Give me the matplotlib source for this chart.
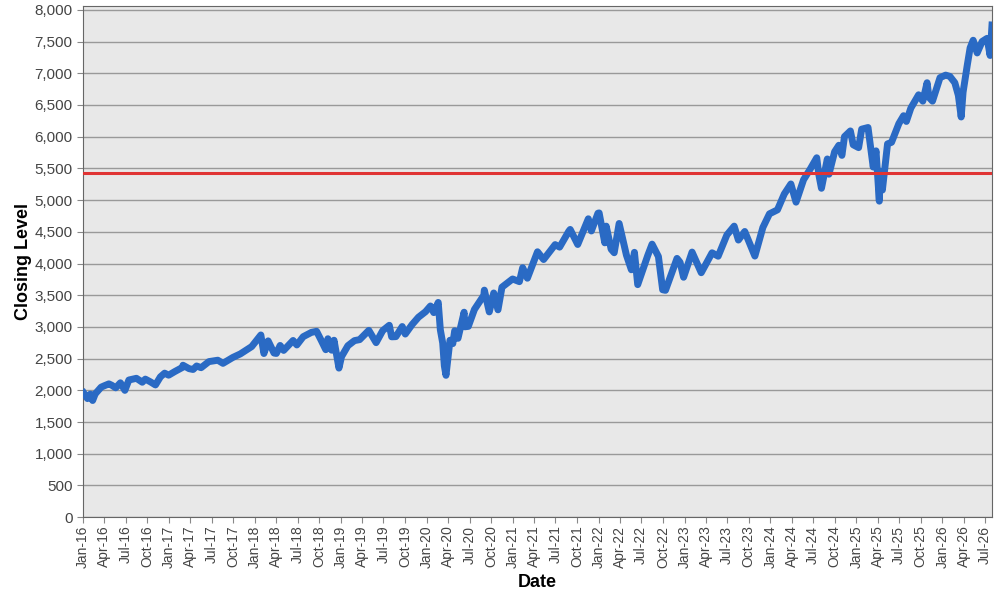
import pandas as pd
import matplotlib
matplotlib.use("Agg")
import matplotlib.pyplot as plt
import matplotlib.dates as mdates
from matplotlib.ticker import MultipleLocator, StrMethodFormatter

plt.rcParams['font.family'] = ['Liberation Sans', 'DejaVu Sans']

# closing levels (approximate)
dates = [
    # 2016
    "2016-01-04", "2016-01-20", "2016-02-01", "2016-02-11", "2016-02-22", "2016-03-01",
    "2016-03-18", "2016-04-01", "2016-04-20", "2016-05-02", "2016-05-19", "2016-06-08",
    "2016-06-27", "2016-07-14", "2016-08-15", "2016-09-09", "2016-09-22", "2016-10-14",
    "2016-11-04", "2016-11-25", "2016-12-13", "2016-12-30",
    # 2017
    "2017-01-26", "2017-02-28", "2017-03-01", "2017-03-27", "2017-04-13", "2017-04-28",
    "2017-05-17", "2017-06-19", "2017-07-27", "2017-08-18", "2017-09-29", "2017-10-31",
    "2017-11-30", "2017-12-18",
    # 2018
    "2018-01-26", "2018-02-08", "2018-02-26", "2018-03-23", "2018-04-02", "2018-04-18",
    "2018-05-03", "2018-06-12", "2018-06-28", "2018-07-25", "2018-08-29", "2018-09-20",
    "2018-10-10", "2018-10-29", "2018-11-07", "2018-11-23", "2018-12-03", "2018-12-24",
    # 2019
    "2019-01-04", "2019-01-31", "2019-02-28", "2019-03-22", "2019-04-30", "2019-05-31",
    "2019-06-28", "2019-07-26", "2019-08-05", "2019-08-23", "2019-09-19", "2019-10-02",
    "2019-10-31", "2019-11-27", "2019-12-27",
    # 2020
    "2020-01-17", "2020-01-31", "2020-02-19", "2020-02-28", "2020-03-09", "2020-03-16",
    "2020-03-23", "2020-04-09", "2020-04-21", "2020-04-29", "2020-05-13", "2020-06-08",
    "2020-06-11", "2020-06-26", "2020-07-22", "2020-08-31", "2020-09-02", "2020-09-23",
    "2020-10-12", "2020-10-30", "2020-11-16", "2020-12-31",
    # 2021
    "2021-01-29", "2021-02-12", "2021-03-04", "2021-04-16", "2021-05-12", "2021-06-30",
    "2021-07-19", "2021-08-27", "2021-09-02", "2021-10-04", "2021-11-18", "2021-12-01",
    "2021-12-29",
    # 2022
    "2022-01-03", "2022-01-27", "2022-02-02", "2022-02-23", "2022-03-08", "2022-03-29",
    "2022-04-29", "2022-05-20", "2022-06-02", "2022-06-16", "2022-07-29", "2022-08-16",
    "2022-09-12", "2022-09-30", "2022-10-12", "2022-11-30", "2022-12-13", "2022-12-28",
    # 2023
    "2023-02-02", "2023-03-13", "2023-04-28", "2023-05-24", "2023-06-30", "2023-07-31",
    "2023-08-18", "2023-09-14", "2023-10-27", "2023-11-30", "2023-12-28",
    # 2024
    "2024-01-31", "2024-02-29", "2024-03-28", "2024-04-19", "2024-05-21", "2024-06-18",
    "2024-07-16", "2024-07-25", "2024-08-05", "2024-08-30", "2024-09-06", "2024-09-30",
    "2024-10-18", "2024-10-31", "2024-11-11", "2024-12-06", "2024-12-18",
    # 2025
    "2025-01-10", "2025-01-23", "2025-02-19", "2025-03-13", "2025-03-25", "2025-04-08",
    "2025-04-09", "2025-04-21", "2025-05-13", "2025-05-30", "2025-06-30", "2025-07-20",
    "2025-08-01", "2025-08-20", "2025-09-22", "2025-10-10", "2025-10-28", "2025-11-05",
    "2025-11-20", "2025-12-22",
    # 2026
    "2026-01-15", "2026-02-02", "2026-02-23", "2026-03-10", "2026-03-22", "2026-03-30",
    "2026-04-17", "2026-04-29", "2026-05-12", "2026-05-29", "2026-06-19", "2026-07-10",
    "2026-07-23", "2026-07-31",
]
closes = [
    # 2016
    1960, 1870, 1940, 1840, 1946, 1978,
    2050, 2073, 2102, 2081, 2040, 2119,
    2000, 2163, 2190, 2128, 2177, 2133,
    2085, 2213, 2271, 2239,
    # 2017
    2298, 2364, 2396, 2342, 2329, 2384,
    2357, 2453, 2475, 2426, 2519, 2575,
    2648, 2690,
    # 2018
    2873, 2581, 2780, 2588, 2582, 2708,
    2630, 2786, 2716, 2846, 2914, 2931,
    2785, 2641, 2814, 2633, 2790, 2351,
    # 2019
    2532, 2704, 2784, 2800, 2946, 2752,
    2942, 3026, 2844, 2847, 3006, 2888,
    3038, 3153, 3240,
    # 2020
    3330, 3226, 3386, 2954, 2747, 2386,
    2237, 2790, 2737, 2940, 2820, 3232,
    3002, 3009, 3276, 3500, 3580, 3237,
    3535, 3270, 3627, 3756,
    # 2021
    3714, 3934, 3768, 4185, 4063, 4298,
    4258, 4509, 4537, 4300, 4705, 4513,
    4793,
    # 2022
    4797, 4326, 4589, 4225, 4170, 4631,
    4132, 3901, 4176, 3667, 4130, 4305,
    4110, 3586, 3577, 4080, 4019, 3783,
    # 2023
    4180, 3855, 4169, 4115, 4450, 4589,
    4370, 4505, 4117, 4568, 4783,
    # 2024
    4846, 5096, 5254, 4967, 5321, 5487,
    5667, 5399, 5186, 5648, 5408, 5762,
    5864, 5705, 6001, 6090, 5872,
    # 2025
    5827, 6118, 6144, 5521, 5776, 4983,
    5456, 5158, 5886, 5911, 6205, 6330,
    6240, 6450, 6660, 6560, 6850, 6620,
    6560, 6930,
    # 2026
    6970, 6950, 6850, 6650, 6310, 6700,
    7130, 7400, 7520, 7320, 7500, 7550,
    7280, 7760,
]
threshold = 5425

x = pd.to_datetime(dates)

fig, ax = plt.subplots(figsize=(10, 6), dpi=100)
fig.subplots_adjust(left=0.083, right=0.992, top=0.99, bottom=0.138)
ax.set_facecolor('#e8e8e8')

ax.plot(x, closes, color='#2a6ac4', linewidth=5, solid_joinstyle='round', zorder=3)
ax.axhline(threshold, color='#e03434', linewidth=2.2, zorder=4)

ax.set_ylim(0, 8060)
ax.yaxis.set_major_locator(MultipleLocator(500))
ax.yaxis.set_major_formatter(StrMethodFormatter('{x:,.0f}'))
ax.grid(axis='y', color='#999999', linewidth=1)
ax.set_axisbelow(True)

ax.set_xlim(pd.Timestamp("2016-01-01"), pd.Timestamp("2026-07-31"))
ax.xaxis.set_major_locator(mdates.MonthLocator(bymonth=[1, 4, 7, 10]))
ax.xaxis.set_major_formatter(mdates.DateFormatter('%b-%y'))
plt.setp(ax.get_xticklabels(), rotation=90)

ax.tick_params(labelsize=11, labelcolor='#444444', color='#888888', length=4)
ax.tick_params(axis='x', labelsize=10, pad=2)
for s in ax.spines.values():
    s.set_color('#666666')

ax.set_xlabel('Date', fontsize=13, fontweight='bold', labelpad=4)
ax.set_ylabel('Closing Level', fontsize=13, fontweight='bold', labelpad=2)

fig.savefig('out.png')
